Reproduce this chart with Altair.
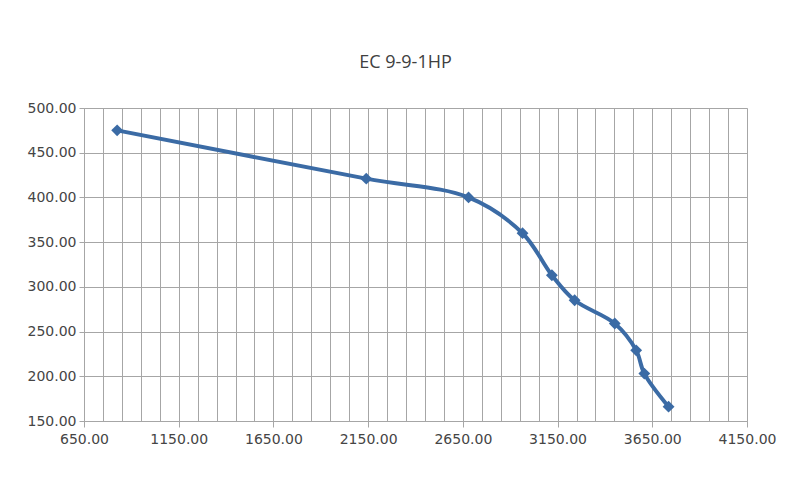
import altair as alt
import pandas as pd

flow = [825, 2140, 2680, 2965, 3120, 3240, 3452, 3565, 3608, 3736]
pressure = [475, 421, 400, 360, 313, 285, 259, 229, 203, 166]

df = pd.DataFrame({"flow": flow, "pressure": pressure})

x_grid = list(range(650, 4151, 100))
y_grid = list(range(150, 501, 50))

LINE = "#3b6ba5"
GRID = "#a6a6a6"

x = alt.X(
    "flow:Q",
    scale=alt.Scale(domain=[650, 4150], nice=False, zero=False),
    axis=alt.Axis(
        title=None,
        values=x_grid,
        labelExpr="(datum.value - 650) % 500 === 0 ? format(datum.value, '.2f') : ''",
        labelOverlap=False,
        labelFlush=False,
        grid=True,
        gridColor=GRID,
        gridWidth=1,
        tickOpacity={"expr": "(datum.value - 650) % 500 === 0 ? 1 : 0"},
        tickColor=GRID,
        tickSize=6,
        domainColor=GRID,
        labelPadding=5,
        labelFont="DejaVu Sans",
        labelFontSize=14,
        labelColor="#454545",
    ),
)
y = alt.Y(
    "pressure:Q",
    scale=alt.Scale(domain=[150, 500], nice=False, zero=False),
    axis=alt.Axis(
        title=None,
        values=y_grid,
        format=".2f",
        grid=True,
        gridColor=GRID,
        gridWidth=1,
        tickColor=GRID,
        tickSize=5,
        domainColor=GRID,
        labelPadding=3,
        labelFont="DejaVu Sans",
        labelFontSize=14,
        labelColor="#454545",
    ),
)

base = alt.Chart(df).encode(x=x, y=y)
line = base.mark_line(color=LINE, strokeWidth=4, interpolate="catmull-rom")
pts = base.mark_point(shape="diamond", filled=True, color=LINE, size=140, opacity=1)

chart = (
    alt.layer(line, pts)
    .properties(
        width=663,
        height=313,
        autosize=alt.AutoSizeParams(type="none"),
        padding={"left": 76, "top": 100, "right": 45, "bottom": 71},
        title=alt.TitleParams(
            "EC 9-9-1HP",
            font="Open Sans",
            fontSize=18,
            fontWeight="normal",
            color="#404040",
            anchor="middle",
            offset=29,
            dx=-10,
        ),
    )
    .configure_view(stroke=None)
    .configure(background="white")
)

chart.save("out.html", embed_options={"renderer": "svg", "actions": False})
